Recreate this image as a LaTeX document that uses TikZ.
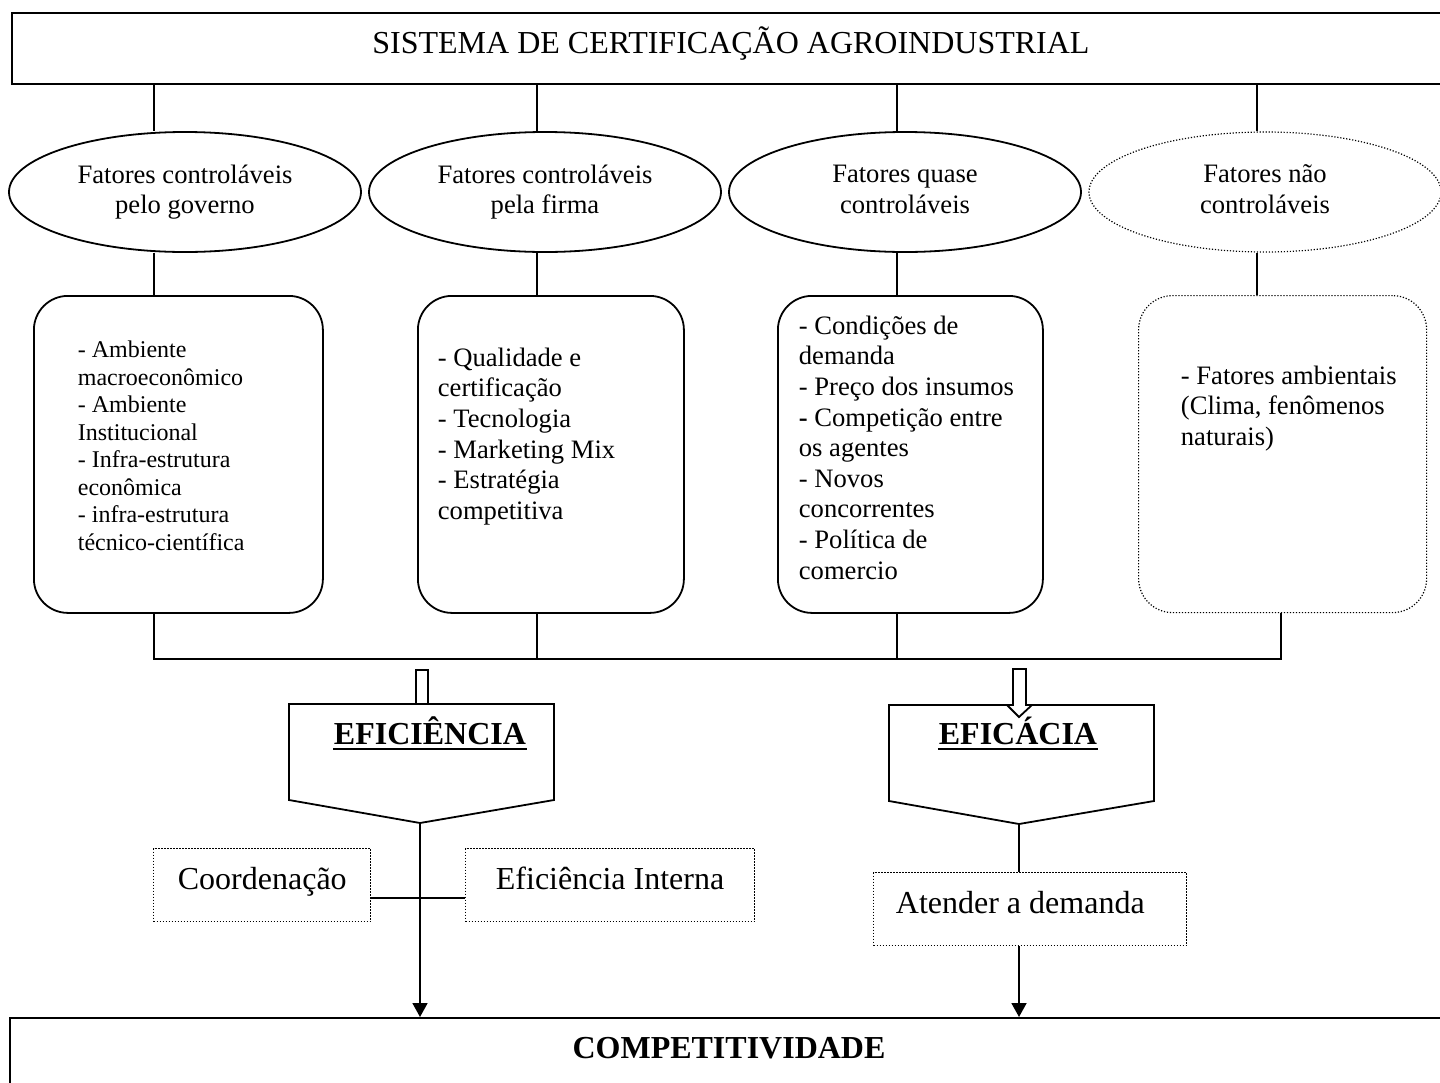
\documentclass[tikz,border=0pt]{standalone}
\usepackage{fontspec}
\setmainfont{Liberation Serif}
\usetikzlibrary{shapes.geometric,arrows.meta}
\tikzset{
 dotln/.style={line width=0.6pt, dash pattern=on 0.6pt off 0.9pt},
 ell/.style={ellipse, draw, minimum width=176pt, minimum height=60pt, inner sep=0pt, align=center, font=\fontsize{13.3}{15.3}\selectfont},
 rbox/.style={draw, rounded corners=17pt, anchor=north west, minimum height=158.5pt, inner sep=0pt},
 dbox/.style={draw, anchor=north west, minimum height=36.5pt, inner sep=0pt},
 listtxt/.style={anchor=north west, align=left, inner sep=0pt, font=\fontsize{13.3}{15.3}\selectfont},
 lbl/.style={anchor=base west, inner sep=0pt, font=\fontsize{16}{18}\selectfont},
 ttl/.style={anchor=base, inner sep=0pt, font=\fontsize{16}{18}\selectfont\bfseries},
 arr/.style={-{Triangle[length=7pt,width=7.5pt]}},
 uln/.style={line width=0.9pt},
}
\begin{document}
\begin{tikzpicture}[x=0.5pt,y=-0.5pt,line width=0.9pt]
\useasboundingbox (0,0) rectangle (1440,1082);
% top box
\node[draw, anchor=north west, minimum width=718.5pt, minimum height=35.5pt, inner sep=0pt] (sys) at (11,12) {};
\node[anchor=base, inner sep=0pt, font=\fontsize{16}{18}\selectfont] (systxt) at (731,53) {SISTEMA DE CERTIFICAÇÃO AGROINDUSTRIAL};
% ellipses
\node[ell] (g1) at (185,192) {Fatores controláveis\\pelo governo};
\node[ell] (g2) at (545,192) {Fatores controláveis\\pela firma\vphantom{g}};
\node[ell] (g3) at (905,192) {Fatores quase\\controláveis\vphantom{g}};
\node[ell, dotln] (g4) at (1265,192) {Fatores não\\controláveis\vphantom{g}};
% boxes
\node[rbox, minimum width=144.5pt] (b1) at (33,295) {};
\node[rbox, minimum width=133pt] (b2) at (417,295) {};
\node[rbox, minimum width=132.5pt] (b3) at (777,295) {};
\node[rbox, dotln, minimum width=144pt] (b4) at (1138,295) {};
\node[listtxt, font=\fontsize{12}{13.75}\selectfont] (t1) at (77,340) {- Ambiente\\macroeconômico\\- Ambiente\\Institucional\\- Infra-estrutura\\econômica\\- infra-estrutura\\técnico-científica};
\node[listtxt] (t2) at (437,347) {- Qualidade e\\certificação\\- Tecnologia\\- Marketing Mix\\- Estratégia\\competitiva};
\node[listtxt] (t3) at (798,315) {- Condições de\\demanda\\- Preço dos insumos\\\textbf{-} Competição entre\\os agentes\\- Novos\\concorrentes\\- Política de\\comercio};
\node[listtxt] (t4) at (1180,365) {- Fatores ambientais\\(Clima, fenômenos\\naturais)};
% connector x positions
\coordinate (x1) at (154,0);
\coordinate (x2) at (537,0);
\coordinate (x3) at (897,0);
\coordinate (x4) at (1257,0);
\coordinate (x4b) at (1281,0);
\coordinate (bus) at (0,659);
\draw (x1 |- sys.south) -- (x1 |- g1.north);
\draw (x2 |- sys.south) -- (x2 |- g2.north);
\draw (x3 |- sys.south) -- (x3 |- g3.north);
\draw (x4 |- sys.south) -- (x4 |- g4.north);
\draw (x1 |- g1.south) -- (x1 |- b1.north);
\draw (x2 |- g2.south) -- (x2 |- b2.north);
\draw (x3 |- g3.south) -- (x3 |- b3.north);
\draw (x4 |- g4.south) -- (x4 |- b4.north);
\draw (x1 |- b1.south) -- (x1 |- bus) -- (x4b |- bus) -- (x4b |- b4.south);
\draw (x2 |- b2.south) -- (x2 |- bus);
\draw (x3 |- b3.south) -- (x3 |- bus);
% block arrow 1 and pentagon 1
\draw (416,704) -- (416,670) -- (428,670) -- (428,704);
\draw[fill=white] (289,704) -- (554,704) -- (554,800) -- (420,823) coordinate (p1tip) -- (289,800) -- cycle;
\node[ttl] (eff) at (430,744) {EFICIÊNCIA};
\draw[uln] ([yshift=-2.6pt]eff.base west) -- ([yshift=-2.6pt]eff.base east);
% pentagon 2 and block arrow 2
\draw[fill=white] (889,705) -- (1154,705) -- (1154,801) -- (1019,824) coordinate (p2tip) -- (889,801) -- cycle;
\draw[fill=white] (1013,705) -- (1013,669) -- (1026,669) -- (1026,705) -- (1032,705) -- (1019,717) -- (1007,705) -- cycle;
\node[ttl] (efc) at (1018,744) {EFICÁCIA};
\draw[uln] ([yshift=-2.6pt]efc.base west) -- ([yshift=-2.6pt]efc.base east);
% lower boxes
\node[dbox, dotln, minimum width=108.5pt] (cA) at (153,848) {};
\node[lbl] (cAt) at (177,889) {Coordenação};
\node[dbox, dotln, minimum width=144.5pt] (cB) at (465,848) {};
\node[lbl] (cBt) at (495,889) {Eficiência Interna};
\node[dbox, dotln, minimum width=156.5pt] (at) at (873,872) {};
\node[lbl] (att) at (895,913) {Atender a demanda};
% bottom box
\node[draw, anchor=north west, minimum width=720.5pt, minimum height=40pt, inner sep=0pt] (comp) at (9,1017) {};
\node[ttl] (comptxt) at (729,1058) {COMPETITIVIDADE};
% connectors
\draw[arr] (p1tip) -- (p1tip |- comp.north);
\draw ([yshift=-6.25pt]cA.east) -- ([yshift=-6.25pt]cB.west);
\draw (p2tip) -- (p2tip |- at.north);
\draw[arr] (p2tip |- at.south) -- (p2tip |- comp.north);
\end{tikzpicture}
\end{document}
